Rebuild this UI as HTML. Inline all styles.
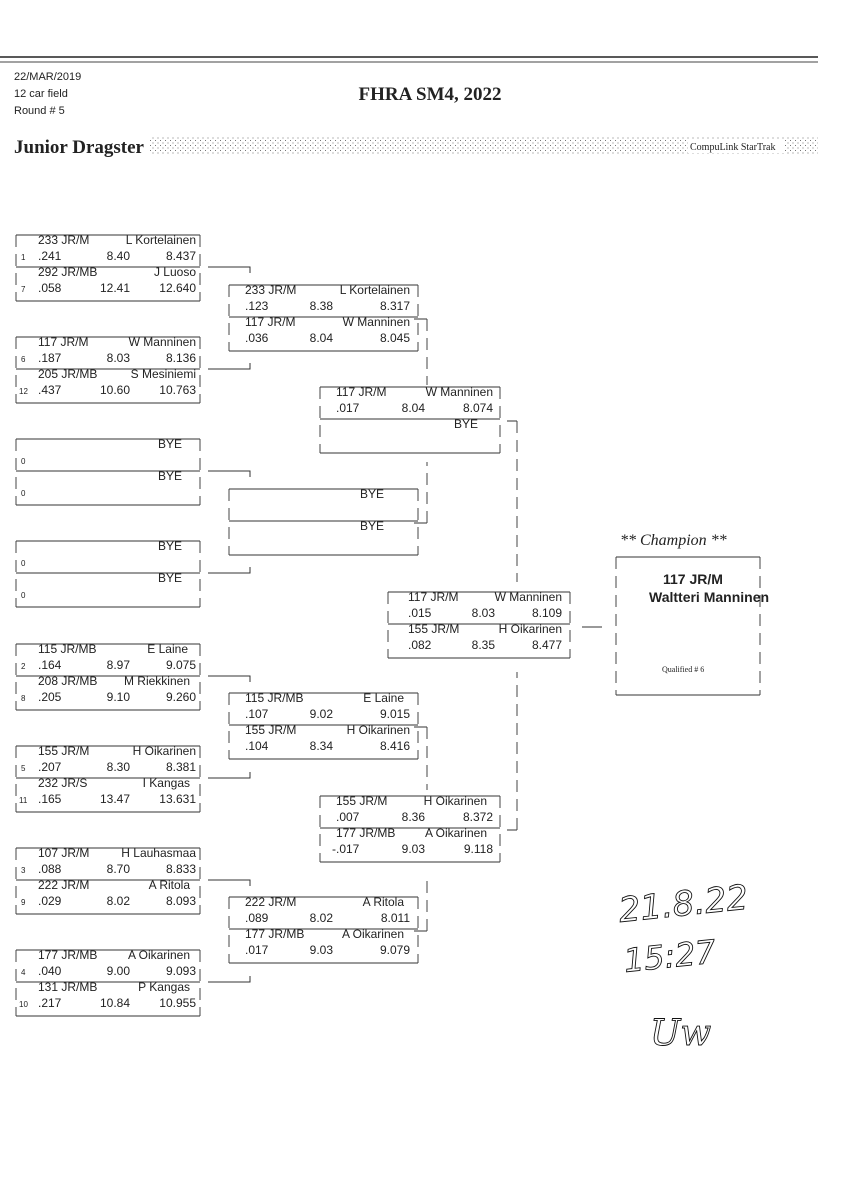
<!DOCTYPE html>
<html><head><meta charset="utf-8"><style>
body{margin:0;background:#fff;}
svg{display:block}
text{font-family:"Liberation Sans",sans-serif;fill:#222;}
.t{font-size:12px}
.s{font-family:"Liberation Serif",serif;font-size:8px}
.l{stroke:#333;stroke-width:1;fill:none}
.d{stroke:#444;stroke-width:1;fill:none;stroke-dasharray:12 7}
</style></head><body>
<svg width="848" height="1200" viewBox="0 0 848 1200">
<defs><pattern id="dots" width="5" height="5" patternUnits="userSpaceOnUse"><rect x="0" y="0" width="1" height="1" fill="#777"/><rect x="2.5" y="2.5" width="1" height="1" fill="#777"/></pattern></defs>
<line x1="0" y1="57" x2="818" y2="57" stroke="#222" stroke-width="1.6"/>
<line x1="0" y1="62" x2="818" y2="62" stroke="#444" stroke-width="1"/>
<text x="14" y="80" style="font-size:11px">22/MAR/2019</text>
<text x="14" y="97" style="font-size:11px">12 car field</text>
<text x="14" y="114" style="font-size:11px">Round # 5</text>
<text x="430" y="100" text-anchor="middle" style="font-family:'Liberation Serif',serif;font-weight:bold;font-size:19px">FHRA SM4, 2022</text>
<rect x="150" y="137" width="668" height="18" fill="url(#dots)"/>
<text x="14" y="153" style="font-family:'Liberation Serif',serif;font-weight:bold;font-size:19px">Junior Dragster</text>
<rect x="688" y="139" width="96" height="14" fill="#fff"/>
<text x="690" y="150" style="font-family:'Liberation Serif',serif;font-size:10px">CompuLink StarTrak</text>

<path class="l" d="M16 235H200M16 267H200M16 301H200M16 337H200M16 369H200M16 403H200M16 439H200M16 471H200M16 505H200M16 541H200M16 573H200M16 607H200M16 644H200M16 676H200M16 710H200M16 746H200M16 778H200M16 812H200M16 848H200M16 880H200M16 914H200M16 950H200M16 982H200M16 1016H200"/>
<path class="d" d="M16 235V301M200 235V301M16 337V403M200 337V403M16 439V505M200 439V505M16 541V607M200 541V607M16 644V710M200 644V710M16 746V812M200 746V812M16 848V914M200 848V914M16 950V1016M200 950V1016"/>
<g class="t">
<text x="38" y="244">233  JR/M</text><text x="196" y="244" text-anchor="end">L Kortelainen</text>
<text x="38" y="260">.241</text><text x="130" y="260" text-anchor="end">8.40</text><text x="196" y="260" text-anchor="end">8.437</text>
<text x="38" y="276">292 JR/MB</text><text x="196" y="276" text-anchor="end">J Luoso</text>
<text x="38" y="292">.058</text><text x="130" y="292" text-anchor="end">12.41</text><text x="196" y="292" text-anchor="end">12.640</text>

<text x="38" y="346">117  JR/M</text><text x="196" y="346" text-anchor="end">W Manninen</text>
<text x="38" y="362">.187</text><text x="130" y="362" text-anchor="end">8.03</text><text x="196" y="362" text-anchor="end">8.136</text>
<text x="38" y="378">205 JR/MB</text><text x="196" y="378" text-anchor="end">S Mesiniemi</text>
<text x="38" y="394">.437</text><text x="130" y="394" text-anchor="end">10.60</text><text x="196" y="394" text-anchor="end">10.763</text>

<text x="182" y="448" text-anchor="end">BYE</text>
<text x="182" y="480" text-anchor="end">BYE</text>
<text x="182" y="550" text-anchor="end">BYE</text>
<text x="182" y="582" text-anchor="end">BYE</text>

<text x="38" y="653">115 JR/MB</text><text x="188" y="653" text-anchor="end">E Laine</text>
<text x="38" y="669">.164</text><text x="130" y="669" text-anchor="end">8.97</text><text x="196" y="669" text-anchor="end">9.075</text>
<text x="38" y="685">208 JR/MB</text><text x="190" y="685" text-anchor="end">M Riekkinen</text>
<text x="38" y="701">.205</text><text x="130" y="701" text-anchor="end">9.10</text><text x="196" y="701" text-anchor="end">9.260</text>

<text x="38" y="755">155  JR/M</text><text x="196" y="755" text-anchor="end">H Oikarinen</text>
<text x="38" y="771">.207</text><text x="130" y="771" text-anchor="end">8.30</text><text x="196" y="771" text-anchor="end">8.381</text>
<text x="38" y="787">232  JR/S</text><text x="190" y="787" text-anchor="end">I Kangas</text>
<text x="38" y="803">.165</text><text x="130" y="803" text-anchor="end">13.47</text><text x="196" y="803" text-anchor="end">13.631</text>

<text x="38" y="857">107  JR/M</text><text x="196" y="857" text-anchor="end">H Lauhasmaa</text>
<text x="38" y="873">.088</text><text x="130" y="873" text-anchor="end">8.70</text><text x="196" y="873" text-anchor="end">8.833</text>
<text x="38" y="889">222  JR/M</text><text x="190" y="889" text-anchor="end">A Ritola</text>
<text x="38" y="905">.029</text><text x="130" y="905" text-anchor="end">8.02</text><text x="196" y="905" text-anchor="end">8.093</text>

<text x="38" y="959">177 JR/MB</text><text x="190" y="959" text-anchor="end">A Oikarinen</text>
<text x="38" y="975">.040</text><text x="130" y="975" text-anchor="end">9.00</text><text x="196" y="975" text-anchor="end">9.093</text>
<text x="38" y="991">131 JR/MB</text><text x="190" y="991" text-anchor="end">P Kangas</text>
<text x="38" y="1007">.217</text><text x="130" y="1007" text-anchor="end">10.84</text><text x="196" y="1007" text-anchor="end">10.955</text>
</g>
<g class="s">
<text x="21" y="260">1</text><text x="21" y="292">7</text><text x="21" y="362">6</text><text x="19" y="394">12</text>
<text x="21" y="464">0</text><text x="21" y="496">0</text><text x="21" y="566">0</text><text x="21" y="598">0</text>
<text x="21" y="669">2</text><text x="21" y="701">8</text><text x="21" y="771">5</text><text x="19" y="803">11</text>
<text x="21" y="873">3</text><text x="21" y="905">9</text><text x="21" y="975">4</text><text x="19" y="1007">10</text>
</g>
<path class="l" d="M208 267H250V273M208 369H250V363M208 471H250V477M208 573H250V567M208 676H250V682M208 778H250V772M208 880H250V886M208 982H250V976"/>

<path class="l" d="M229 285H418M229 317H418M229 351H418M229 489H418M229 521H418M229 555H418M229 693H418M229 725H418M229 759H418M229 897H418M229 929H418M229 963H418"/>
<path class="d" d="M229 285V351M418 285V351M229 489V555M418 489V555M229 693V759M418 693V759M229 897V963M418 897V963"/>
<g class="t">
<text x="245" y="294">233  JR/M</text><text x="410" y="294" text-anchor="end">L Kortelainen</text>
<text x="245" y="310">.123</text><text x="333" y="310" text-anchor="end">8.38</text><text x="410" y="310" text-anchor="end">8.317</text>
<text x="245" y="326">117  JR/M</text><text x="410" y="326" text-anchor="end">W Manninen</text>
<text x="245" y="342">.036</text><text x="333" y="342" text-anchor="end">8.04</text><text x="410" y="342" text-anchor="end">8.045</text>
<text x="384" y="498" text-anchor="end">BYE</text>
<text x="384" y="530" text-anchor="end">BYE</text>
<text x="245" y="702">115 JR/MB</text><text x="404" y="702" text-anchor="end">E Laine</text>
<text x="245" y="718">.107</text><text x="333" y="718" text-anchor="end">9.02</text><text x="410" y="718" text-anchor="end">9.015</text>
<text x="245" y="734">155  JR/M</text><text x="410" y="734" text-anchor="end">H Oikarinen</text>
<text x="245" y="750">.104</text><text x="333" y="750" text-anchor="end">8.34</text><text x="410" y="750" text-anchor="end">8.416</text>
<text x="245" y="906">222  JR/M</text><text x="404" y="906" text-anchor="end">A Ritola</text>
<text x="245" y="922">.089</text><text x="333" y="922" text-anchor="end">8.02</text><text x="410" y="922" text-anchor="end">8.011</text>
<text x="245" y="938">177 JR/MB</text><text x="404" y="938" text-anchor="end">A Oikarinen</text>
<text x="245" y="954">.017</text><text x="333" y="954" text-anchor="end">9.03</text><text x="410" y="954" text-anchor="end">9.079</text>
</g>
<path class="l" d="M414 319H427M414 523H427M414 727H427M414 931H427"/>
<path class="d" d="M427 319V385M427 523V462M427 727V790M427 931V874"/>

<path class="l" d="M320 387H500M320 419H500M320 453H500M320 796H500M320 828H500M320 862H500"/>
<path class="d" d="M320 387V453M500 387V453M320 796V862M500 796V862"/>
<g class="t">
<text x="336" y="396">117  JR/M</text><text x="493" y="396" text-anchor="end">W Manninen</text>
<text x="336" y="412">.017</text><text x="425" y="412" text-anchor="end">8.04</text><text x="493" y="412" text-anchor="end">8.074</text>
<text x="478" y="428" text-anchor="end">BYE</text>
<text x="336" y="805">155  JR/M</text><text x="487" y="805" text-anchor="end">H Oikarinen</text>
<text x="336" y="821">.007</text><text x="425" y="821" text-anchor="end">8.36</text><text x="493" y="821" text-anchor="end">8.372</text>
<text x="336" y="837">177 JR/MB</text><text x="487" y="837" text-anchor="end">A Oikarinen</text>
<text x="332" y="853">-.017</text><text x="425" y="853" text-anchor="end">9.03</text><text x="493" y="853" text-anchor="end">9.118</text>
</g>
<path class="l" d="M507 421H517M507 830H517"/>
<path class="d" d="M517 421V582M517 830V672"/>

<path class="l" d="M388 592H570M388 624H570M388 658H570"/>
<path class="d" d="M388 592V658M570 592V658"/>
<g class="t">
<text x="408" y="601">117  JR/M</text><text x="562" y="601" text-anchor="end">W Manninen</text>
<text x="408" y="617">.015</text><text x="495" y="617" text-anchor="end">8.03</text><text x="562" y="617" text-anchor="end">8.109</text>
<text x="408" y="633">155  JR/M</text><text x="562" y="633" text-anchor="end">H Oikarinen</text>
<text x="408" y="649">.082</text><text x="495" y="649" text-anchor="end">8.35</text><text x="562" y="649" text-anchor="end">8.477</text>
</g>
<path class="l" d="M582 627H602"/>

<text x="620" y="545" style="font-family:'Liberation Serif',serif;font-style:italic;font-size:16px">** Champion **</text>
<path class="l" d="M616 557H760M616 695H760"/>
<path class="d" d="M616 557V695M760 557V695"/>
<text x="663" y="584" style="font-size:14px;font-weight:bold;font-family:'Liberation Sans Narrow','Liberation Sans',sans-serif">117  JR/M</text>
<text x="649" y="602" style="font-size:14px;font-weight:bold;font-family:'Liberation Sans Narrow','Liberation Sans',sans-serif">Waltteri Manninen</text>
<text x="662" y="672" style="font-family:'Liberation Serif',serif;font-size:8px">Qualified # 6</text>

<text x="620" y="922" style="font-family:'DejaVu Sans',sans-serif;font-size:34px;font-style:italic;fill:#fff;stroke:#111;stroke-width:0.9" transform="rotate(-6 620 922)">21.8.22</text>
<text x="625" y="972" style="font-family:'DejaVu Sans',sans-serif;font-size:32px;font-style:italic;fill:#fff;stroke:#111;stroke-width:0.9" transform="rotate(-6 625 972)">15:27</text>
<text x="650" y="1045" style="font-family:'DejaVu Serif',serif;font-size:36px;font-style:italic;fill:#fff;stroke:#111;stroke-width:0.9">Uw</text>
</svg>
</body></html>
